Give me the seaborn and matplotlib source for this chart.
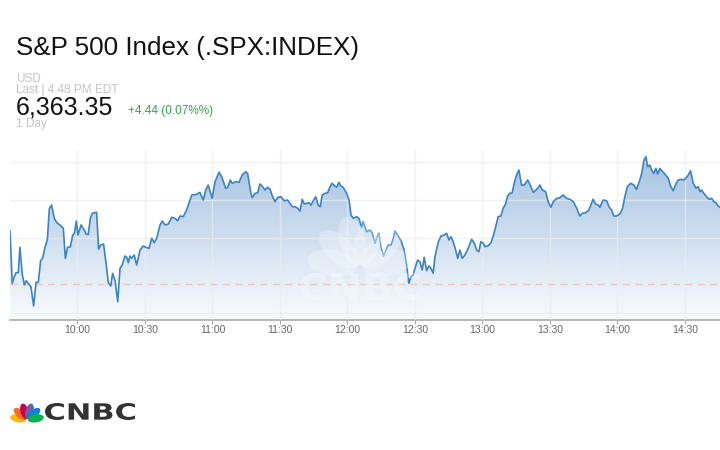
import numpy as np
import pandas as pd
import matplotlib
matplotlib.use("Agg")
import matplotlib.pyplot as plt
from matplotlib.colors import LinearSegmentedColormap
from matplotlib.patches import Ellipse, PathPatch
from matplotlib.textpath import TextPath
from matplotlib.font_manager import FontProperties
from matplotlib.transforms import Affine2D
import seaborn as sns

# intraday S&P 500, minutes after 9:30 and index level
minutes = [
    0.0, 1.0, 1.9, 2.7, 3.7, 4.4, 5.5, 6.4, 7.2, 8.1, 9.3, 10.5, 11.6, 12.6, 13.6, 14.5, 15.6, 16.6, 17.5, 18.5,
    19.7, 20.8, 22.2, 23.7, 24.6, 25.6, 26.8, 27.9, 28.6, 29.5, 30.2, 31.6, 33.0, 33.9, 34.8, 35.7, 36.6, 38.5, 39.4, 40.3,
    41.6, 42.7, 43.7, 44.8, 45.6, 46.7, 47.9, 48.9, 49.9,
    51.1, 51.9, 52.6, 53.3, 54.1, 55.2, 56.3, 57.8, 59.2, 60.8, 61.8, 63.0, 64.1, 65.2, 66.7, 67.7, 68.9, 70.4, 71.9, 73.3,
    74.5, 75.6, 77.0, 78.5, 80.0, 80.8, 83.0, 84.4, 85.9, 87.0, 88.1, 89.9, 91.1, 92.9, 94.1, 95.9, 96.8, 97.9, 98.8, 100.3,
    101.8, 103.2, 104.8,
    105.6, 107.1, 107.7, 108.9, 110.1, 111.1, 112.1, 113.3, 114.5, 115.6, 116.6, 117.8, 119.0, 120.4, 121.9, 123.4, 124.4,
    125.5, 126.7, 127.9, 128.9, 129.9, 130.8, 131.9, 132.9, 133.8, 135.0, 135.9, 137.0, 137.9, 138.8, 140.0, 141.2, 142.4,
    143.2, 144.4, 145.2, 146.2, 147.1, 148.1, 149.6, 150.7, 151.6, 152.6, 154.1, 155.1, 156.3, 157.0,
    158.5, 160.0, 161.0, 162.2, 163.1, 164.0, 164.9, 166.1, 167.0, 168.1, 169.3, 170.2, 171.1, 172.3, 173.8, 175.2, 176.3,
    177.3, 178.2, 179.2, 180.0, 181.2, 182.2, 183.2, 184.1, 185.2, 186.2, 187.1, 188.1, 188.9, 190.4, 191.6, 193.0, 194.1,
    195.1, 196.0, 197.0, 198.1, 199.0, 200.0, 201.0, 202.2, 203.7, 205.2, 206.4, 207.4, 208.4, 209.3, 210.4,
    211.1, 212.6, 213.8, 214.8, 215.9, 217.0, 218.2, 219.2, 220.3, 221.2, 222.2, 223.2, 224.1, 225.2, 226.2, 227.4, 228.6,
    230.1, 231.1, 232.6, 234.1, 235.6, 236.6, 238.1, 239.2, 240.4, 241.5, 243.0, 244.4, 245.9, 247.4, 248.9, 250.4, 251.9,
    253.3, 254.4, 255.9, 257.3, 258.2, 259.2, 260.3, 261.5,
    262.2, 263.7, 265.2, 266.4, 267.4, 268.4, 269.6, 271.1, 272.3, 273.3, 274.4, 275.9, 277.3, 278.5, 279.7, 280.8, 281.8,
    282.7, 283.4, 284.4, 285.2, 286.2, 287.1, 287.9, 288.9, 290.1, 291.1, 292.6, 293.6, 294.8, 296.0, 297.0, 298.5, 299.6,
    300.4, 301.5, 302.5, 303.7, 304.9, 305.9, 306.7, 307.4, 308.4, 309.6, 310.8, 311.9, 312.9, 313.8, 314.8, 315.6,
]
prices = [
    6365.94, 6358.97, 6359.85, 6360.38, 6360.38, 6363.74, 6360.07, 6358.75, 6359.32, 6358.97, 6358.52, 6355.97, 6359.10,
    6359.10, 6361.97, 6362.28, 6363.82, 6364.71, 6368.91, 6369.34, 6367.58, 6367.00, 6366.70, 6366.26, 6362.28, 6363.74,
    6363.80, 6365.37, 6365.60, 6367.22, 6365.37, 6366.70, 6366.03, 6365.46, 6365.46, 6367.58, 6368.25, 6368.38, 6363.48,
    6364.05, 6364.18, 6361.62, 6359.05, 6358.62, 6360.30, 6359.32, 6356.54, 6360.96, 6361.40,
    6362.59, 6362.42, 6361.70, 6362.59, 6362.28, 6362.72, 6361.40, 6363.38, 6363.91, 6363.69, 6363.60, 6364.93, 6364.35,
    6364.93, 6366.70, 6367.22, 6366.70, 6366.83, 6367.72, 6367.58, 6367.27, 6367.89, 6367.80, 6368.68, 6370.00, 6370.67,
    6370.76, 6371.02, 6370.00, 6371.33, 6371.99, 6370.23, 6372.43, 6373.68, 6373.09, 6371.56, 6371.69, 6372.66, 6372.22,
    6372.43, 6372.35, 6373.32, 6373.75,
    6373.54, 6370.89, 6370.31, 6370.89, 6370.97, 6372.13, 6371.86, 6371.33, 6371.69, 6371.42, 6370.54, 6369.78, 6370.36,
    6370.44, 6369.91, 6370.00, 6369.57, 6369.12, 6369.12, 6368.91, 6368.55, 6370.10, 6369.48, 6369.57, 6369.65, 6369.34,
    6370.00, 6370.44, 6369.34, 6369.12, 6370.67, 6370.89, 6370.97, 6371.86, 6372.22, 6371.86, 6371.69, 6372.35, 6371.86,
    6371.69, 6370.89, 6370.00, 6368.02, 6367.58, 6367.80, 6367.58, 6366.39, 6367.13,
    6365.81, 6366.03, 6365.68, 6364.27, 6365.07, 6365.60, 6363.82, 6362.59, 6363.29, 6364.05, 6364.05, 6364.71, 6365.90,
    6365.37, 6364.62, 6363.38, 6361.40, 6358.97, 6359.85, 6360.07, 6360.96, 6362.06, 6361.83, 6360.74, 6362.42, 6360.64,
    6361.26, 6360.96, 6360.30, 6362.50, 6364.48, 6365.24, 6365.37, 6365.60, 6364.71, 6365.15, 6364.48, 6363.38, 6362.28,
    6363.38, 6362.28, 6362.72, 6363.61, 6364.80, 6364.27, 6363.38, 6363.16, 6364.48, 6364.27,
    6363.82, 6363.95, 6364.35, 6365.24, 6366.47, 6367.80, 6367.89, 6368.91, 6369.48, 6370.54, 6370.89, 6370.97, 6372.22,
    6373.32, 6373.98, 6371.99, 6371.99, 6372.66, 6372.09, 6371.02, 6371.42, 6371.99, 6371.33, 6371.11, 6369.78, 6369.04,
    6369.78, 6370.23, 6370.31, 6370.67, 6370.23, 6370.10, 6369.78, 6368.91, 6367.89, 6368.25, 6368.32, 6368.68, 6369.34,
    6370.10, 6369.48, 6369.34,
    6369.04, 6370.00, 6369.91, 6369.04, 6368.68, 6367.89, 6367.89, 6368.15, 6368.91, 6370.44, 6371.77, 6372.22, 6371.99,
    6371.42, 6372.43, 6373.54, 6375.30, 6375.74, 6374.42, 6374.64, 6373.98, 6373.54, 6374.20, 6373.45, 6374.20, 6373.75,
    6373.45, 6372.88, 6371.86, 6371.24, 6372.13, 6372.66, 6372.75, 6372.66, 6372.88, 6373.32, 6373.89, 6372.22, 6371.56,
    6371.77, 6371.11, 6371.33, 6370.89, 6370.44, 6370.10, 6370.23, 6369.78, 6369.65, 6369.21, 6369.04,
]
prev_close = 6358.91
tick_minutes = [30, 60, 90, 120, 150, 180, 210, 240, 270, 300]
tick_labels = ["10:00", "10:30", "11:00", "11:30", "12:00", "12:30", "13:00", "13:30", "14:00", "14:30"]
grid_prices = [6355, 6365, 6370, 6375]

sns.set_style("white")
plt.rcParams['font.family'] = ['Liberation Sans', 'DejaVu Sans']

df = pd.DataFrame({"minute": minutes, "price": prices})

fig = plt.figure(figsize=(7.2, 4.5), dpi=100)
ax = fig.add_axes([10 / 720, 1 - 320 / 450, 710 / 720, 170 / 450])

ymin, ymax = 6354.11, 6376.63
xmax = minutes[-1]

# gradient area under the line
poly = ax.fill_between(df["minute"], df["price"], ymin, color="none", lw=0)
grad = np.linspace(0, 1, 256).reshape(-1, 1)
cmap = LinearSegmentedColormap.from_list("area", ["#f9fbfd", "#a4c2e1"])
img = ax.imshow(grad, extent=[0, xmax, ymin, 6376.0], origin="lower", aspect="auto",
                cmap=cmap, zorder=1, interpolation="bilinear")
img.set_clip_path(poly.get_paths()[0], transform=ax.transData)

sns.lineplot(data=df, x="minute", y="price", color="#3a84c5", lw=1.2, ax=ax, zorder=4)
ax.axhline(prev_close, color="#f0c4c4", ls=(0, (5, 4)), lw=1, zorder=3)

ax.set_xlim(0, xmax)
ax.set_ylim(ymin, ymax)
ax.set_xticks(tick_minutes)
ax.set_xticklabels(tick_labels)
ax.set_yticks(grid_prices)
ax.set_axisbelow(False)
ax.grid(True, color="#ececec", lw=1, alpha=0.7, zorder=2)
ax.tick_params(axis="y", left=False, labelleft=False)
ax.tick_params(axis="x", bottom=True, direction="out", length=3, color="#aaaaaa",
               labelsize=7.5, labelcolor="#666666", pad=0.5)
ax.set_xlabel("")
ax.set_ylabel("")
for s in ["top", "right", "left"]:
    ax.spines[s].set_visible(False)
ax.spines["bottom"].set_color("#aaaaaa")
ax.spines["bottom"].set_linewidth(1.2)

# header texts
def px(x, y):
    return x / 720, 1 - y / 450

fig.text(*px(16, 55), "S&P 500 Index (.SPX:INDEX)", fontsize=18.7, color="#111111", va="baseline")
fig.text(*px(16, 82), "USD", fontsize=8.5, color="#c4c4c4", va="baseline")
fig.text(*px(16, 93), "Last | 4:48 PM EDT", fontsize=8.5, color="#c4c4c4", va="baseline")
fig.text(*px(16, 115), "6,363.35", fontsize=18, color="#111111", va="baseline")
fig.text(*px(128, 114), "+4.44 (0.07%%)", fontsize=8.5, color="#2ea84a", va="baseline")
fig.text(*px(16, 127.5), "1 Day", fontsize=8.5, color="#c4c4c4", va="baseline")

# overlay in pixel coordinates for logos
ov = fig.add_axes([0, 0, 1, 1])
ov.set_xlim(0, 720)
ov.set_ylim(450, 0)
ov.axis("off")

def peacock(cx, cy, r, w, h, colors, alpha):
    angles = [-80, -48, -16, 16, 48, 80]
    for a, c in zip(angles, colors):
        t = np.deg2rad(a)
        ov.add_patch(Ellipse((cx + r * np.sin(t), cy - r * np.cos(t)), w, h, angle=a,
                             color=c, alpha=alpha, lw=0))

def wide_word(text, x0, base, width, height, color, alpha):
    tp = TextPath((0, 0), text, size=20, prop=FontProperties(family="DejaVu Sans", weight="bold"))
    bb = tp.get_extents()
    tr = Affine2D().translate(-bb.x0, -bb.y0).scale(width / bb.width, -height / bb.height).translate(x0, base)
    ov.add_patch(PathPatch(tr.transform_path(tp), color=color, alpha=alpha, lw=0))

# faint watermark
peacock(360, 268, 28, 26, 50, ["white"] * 6, 0.25)
wide_word("CNBC", 300, 300, 120, 27, "white", 0.3)

# logo bottom-left
peacock(27, 420, 9, 8, 16, ["#fcb711", "#f37021", "#cc004c", "#6460aa", "#0089d0", "#0db14b"], 1)
wide_word("CNBC", 45, 420, 90, 17, "#333333", 1)

fig.savefig("out.png", dpi=100)
